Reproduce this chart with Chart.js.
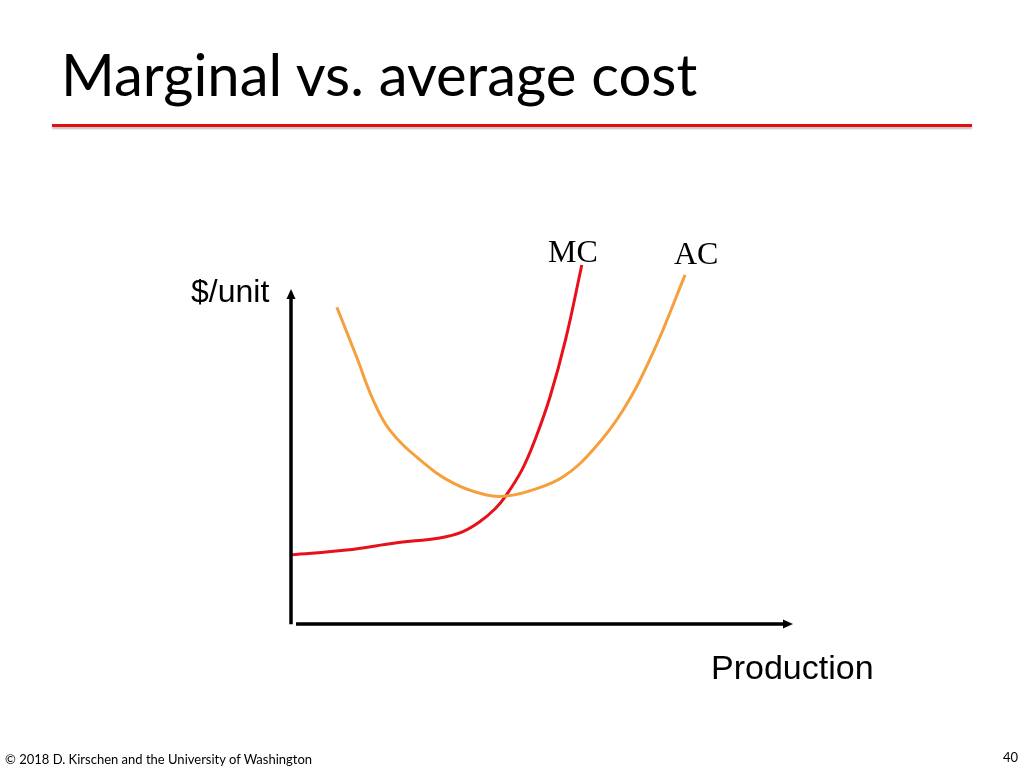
<!DOCTYPE html>
<html>
<head>
<meta charset="utf-8">
<script src="https://cdn.jsdelivr.net/npm/chart.js@4/dist/chart.umd.min.js"></script>
<style>
  html, body { margin: 0; padding: 0; background: #fff; }
  #page { position: relative; width: 1024px; height: 768px; overflow: hidden; }
  #chart { position: absolute; left: 0; top: 0; }
  .txt { position: absolute; white-space: nowrap; color: #000; line-height: 1; }
  #title { left: 61px; top: 45px; font-family: Lato, sans-serif; font-size: 58px; }
  #rule { position: absolute; left: 52px; top: 124px; width: 920px; height: 3px; background: #e01010;
          box-shadow: 0 2px 2px rgba(0,0,0,0.25); }
  .axis { font-family: "Liberation Sans", Arial, sans-serif; font-size: 32px; }
  .curve { font-family: "Liberation Serif", "Times New Roman", serif; font-size: 32px; }
  .foot { font-family: Lato, sans-serif; font-size: 13px; }
</style>
</head>
<body>
<div id="page">
  <canvas id="chart" width="1024" height="768"></canvas>
  <div id="title" class="txt">Marginal vs. average cost</div>
  <div id="rule"></div>
  <div class="txt axis" style="left:191px; top:275px;">$/unit</div>
  <div class="txt axis" style="left:711px; top:650px; font-size:34px;">Production</div>
  <div class="txt curve" style="left:548px; top:235px;">MC</div>
  <div class="txt curve" style="left:674px; top:237px;">AC</div>
  <div class="txt foot" style="left:5px; top:753px;">© 2018 D. Kirschen and the University of Washington</div>
  <div class="txt foot" style="left:1003px; top:751px;">40</div>
</div>
<script>
// quantity produced vs cost per unit
const mcQuantity = [0.1, 11, 21, 29.5, 34, 37.5, 40.5, 42.5, 45.8, 48.4, 51.4, 54.5, 57.7];
const mcCost     = [21.6, 23.1, 25.4, 26.9, 28.8, 32, 36, 39.8, 48.1, 57.5, 71, 89, 112.2];

const acQuantity = [9.1, 13, 16.3, 19.6, 25.6, 32.1, 38.8, 42.8, 48, 54, 59.9, 65.9, 71.8, 78.2];
const acCost     = [99, 83.5, 70, 60.6, 51.3, 44.1, 40.3, 40, 41.9, 46, 54.4, 66.9, 84.7, 109.1];

// axis extents in data units (start and arrow tip)
const xAxisRange = [1, 99.6];
const yAxisRange = [-0.1, 104.7];

function toPoints(xs, ys) {
    return xs.map((x, i) => ({ x: x, y: ys[i] }));
}

// draws the two arrowed axes through the library scales
const arrowAxes = {
    id: 'arrowAxes',
    afterDatasetsDraw(chart) {
        const ctx = chart.ctx;
        const xs = chart.scales.x, ys = chart.scales.y;
        const ox = xs.getPixelForValue(0), oy = ys.getPixelForValue(0);
        ctx.save();
        ctx.strokeStyle = '#000';
        ctx.fillStyle = '#000';
        ctx.lineWidth = 3.5;

        // vertical axis
        const yTop = ys.getPixelForValue(yAxisRange[1]);
        ctx.beginPath();
        ctx.moveTo(ox, ys.getPixelForValue(yAxisRange[0]));
        ctx.lineTo(ox, yTop + 8);
        ctx.stroke();
        ctx.beginPath();
        ctx.moveTo(ox, yTop);
        ctx.lineTo(ox - 4.5, yTop + 10);
        ctx.lineTo(ox + 4.5, yTop + 10);
        ctx.closePath();
        ctx.fill();

        // horizontal axis
        const xEnd = xs.getPixelForValue(xAxisRange[1]);
        ctx.beginPath();
        ctx.moveTo(xs.getPixelForValue(xAxisRange[0]), oy);
        ctx.lineTo(xEnd - 8, oy);
        ctx.stroke();
        ctx.beginPath();
        ctx.moveTo(xEnd, oy);
        ctx.lineTo(xEnd - 10, oy - 4.5);
        ctx.lineTo(xEnd - 10, oy + 4.5);
        ctx.closePath();
        ctx.fill();
        ctx.restore();
    }
};

const ctx = document.getElementById('chart').getContext('2d');
new Chart(ctx, {
    type: 'scatter',
    data: {
        datasets: [
            {
                label: 'AC',
                data: toPoints(acQuantity, acCost),
                showLine: true,
                borderColor: '#f5a03c',
                borderWidth: 3,
                pointRadius: 0,
                tension: 0.4,
                clip: false
            },
            {
                label: 'MC',
                data: toPoints(mcQuantity, mcCost),
                showLine: true,
                borderColor: '#e8101a',
                borderWidth: 3,
                pointRadius: 0,
                tension: 0.4,
                clip: false
            }
        ]
    },
    options: {
        responsive: false,
        animation: false,
        devicePixelRatio: 1,
        layout: { padding: { left: 291, right: 229, top: 240, bottom: 144 } },
        plugins: { legend: { display: false }, tooltip: { enabled: false } },
        scales: {
            x: { type: 'linear', min: 0, max: 100, display: false },
            y: { type: 'linear', min: 0, max: 120, display: false }
        }
    },
    plugins: [arrowAxes]
});
</script>
</body>
</html>
